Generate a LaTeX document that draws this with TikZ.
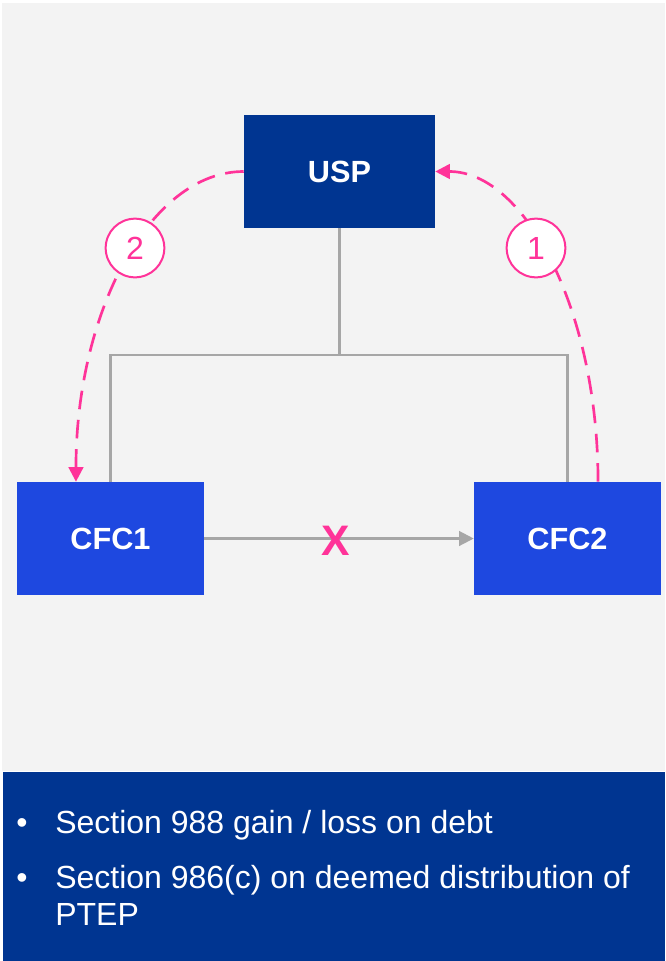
\documentclass[tikz,border=0pt]{standalone}
\usepackage{fontspec}
\setmainfont{Liberation Sans}
\usepackage{xcolor}
\usetikzlibrary{arrows.meta}
\definecolor{navy}{RGB}{0,53,145}
\definecolor{brightblue}{RGB}{30,72,224}
\definecolor{hotpink}{RGB}{255,51,153}
\definecolor{linegray}{RGB}{166,166,166}
\definecolor{bggray}{RGB}{243,243,243}
\tikzstyle{parent} = [rectangle, fill=navy, text=white, font=\bfseries\fontsize{23}{28}\selectfont, minimum width=143.25pt, minimum height=84.75pt, inner sep=0pt]
\tikzstyle{subsidiary} = [rectangle, fill=brightblue, text=white, font=\bfseries\fontsize{23}{28}\selectfont, minimum width=140.25pt, minimum height=84.75pt, inner sep=0pt]
\tikzstyle{badge} = [circle, draw=hotpink, line width=1.5pt, fill=white, text=hotpink, font=\fontsize{24}{28}\selectfont, minimum size=44pt, inner sep=0pt]
\tikzstyle{owner} = [draw=linegray, line width=1.6pt]
\tikzstyle{loan} = [draw=linegray, line width=1.6pt, -{Triangle[length=11pt, width=11pt]}]
\tikzstyle{flow} = [draw=hotpink, line width=2pt, dash pattern=on 14pt off 8pt, -{Triangle[length=11pt, width=11pt]}]
\tikzstyle{note} = [text=white, font=\fontsize{24}{27.75}\selectfont, inner sep=0pt, align=left]

\begin{document}
\begin{tikzpicture}[x=0.75pt, y=-0.75pt]
        % panels
        \fill [white] (0,0) rectangle (665,961);
        \fill [bggray] (2,3) rectangle (665,771);
        \fill [navy] (3,772) rectangle (665,961);

        \node [parent] at (339.5,171.5) (usp) {USP};
        \node [subsidiary] at (110.5,538.5) (cfc1) {CFC1};
        \node [subsidiary] at (567.5,538.5) (cfc2) {CFC2};

        % ownership lines
        \coordinate (bar) at (339.5,355);
        \path [owner] (usp.south) -- (bar);
        \path [owner] (cfc1.north) |- (bar) -| (cfc2.north);

        \path [loan] (cfc1) -- (cfc2);
        \node [text=hotpink, font=\bfseries\fontsize{32}{36}\selectfont, inner sep=0pt] at (336,541) (blocked) {X};

        % steps
        \path [flow] ([xshift=22.9pt]cfc2.north) .. controls +(0,-171) and +(90,0) .. (usp.east);
        \path [flow] (usp.west) .. controls +(-93,0) and +(0,-171) .. ([xshift=-25.9pt]cfc1.north);
        \node [badge] at (536,248) (one) {1};
        \node [badge] at (135,248) (two) {2};

        % notes
        \node [note, anchor=base] at (22,833) (dot1) {\textbullet};
        \node [note, anchor=base west] at (55,833) (item1) {Section 988 gain / loss on debt};
        \node [note, anchor=base] at (22,888) (dot2) {\textbullet};
        \node [note, anchor=base west] at (55,925) (item2) {Section 986(c) on deemed distribution of\\PTEP};
    \end{tikzpicture}
\end{document}
